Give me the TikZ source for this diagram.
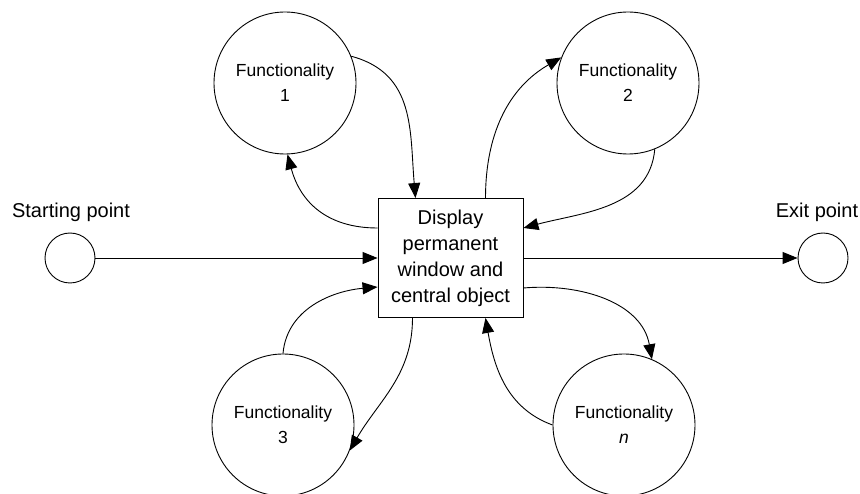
\documentclass[tikz,border=0pt]{standalone}
\usepackage{fontspec}
\setmainfont{Liberation Sans}
\usetikzlibrary{arrows.meta}
\begin{document}
\begin{tikzpicture}[x=1pt,y=1pt,
  func/.style={circle,draw,line width=0.9pt,minimum size=142pt,inner sep=0pt,align=center,font=\fontsize{17.5}{25}\selectfont},
  term/.style={circle,draw,line width=0.9pt,minimum size=50pt,inner sep=0pt},
  lbl/.style={font=\fontsize{20}{24}\selectfont,inner sep=0pt,anchor=base},
  mainbox/.style={draw,line width=0.9pt,minimum width=145pt,minimum height=119pt,inner sep=0pt,align=center,font=\fontsize{20}{26}\selectfont},
  arr/.style={-{Triangle[length=15pt,width=12pt]},line width=0.9pt}
]
\useasboundingbox (0,0) rectangle (860,493);

\node[mainbox] (box) at (450.5,235) {Display\\permanent\\window and\\central object};
\node[func] (c1) at (285,410) {Functionality\\1};
\node[func] (c2) at (628,410) {Functionality\\2};
\node[func] (c3) at (283,68) {Functionality\\3};
\node[func] (cn) at (624,68) {Functionality\\\textit{n}};
\node[term] (st) at (70,235) {};
\node[term] (ex) at (823,235) {};
\node[lbl] (stl) at (71,275) {Starting point};
\node[lbl] (exl) at (817,275) {Exit point};

\draw[arr] (st.east) -- (box.west);
\draw[arr] (box.east) -- (ex.west);

\draw[arr] (c1.22) to[out=-15,in=95,looseness=1.1] ([xshift=-35pt]box.north);
\draw[arr] ([yshift=30pt]box.west) to[out=180,in=-75,looseness=1.1] (c1.-88);
\draw[arr] ([xshift=35pt]box.north) to[out=90,in=210] (c2.159);
\draw[arr] (c2.-68) to[out=-95,in=15] ([yshift=30pt]box.east);
\draw[arr] (c3.90) to[out=85,in=185] ([yshift=-29pt]box.west);
\draw[arr] ([xshift=-38pt]box.south) to[out=-90,in=60] (c3.-21);
\draw[arr] ([yshift=-30pt]box.east) to[out=5,in=100] (cn.67);
\draw[arr] (cn.180) to[out=160,in=-80] ([xshift=35pt]box.south);
\end{tikzpicture}
\end{document}
